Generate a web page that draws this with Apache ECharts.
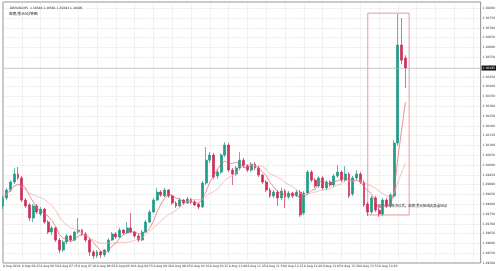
<!DOCTYPE html>
<html><head><meta charset="utf-8">
<script src="https://cdn.jsdelivr.net/npm/echarts@6/dist/echarts.min.js"></script>
<style>html,body{margin:0;padding:0;background:#fff}#c{width:498px;height:271px}</style>
</head><body><div id="c"></div>
<script>
const timeLabels = ['8 Aug 2019','8 Aug 06:25','8 Aug 06:50','8 Aug 07:15','8 Aug 07:40','8 Aug 08:05','8 Aug 08:30','8 Aug 08:55','8 Aug 09:20','8 Aug 09:45','8 Aug 10:10','8 Aug 10:35','8 Aug 11:00','8 Aug 11:25','8 Aug 11:50','8 Aug 12:15','8 Aug 12:40','8 Aug 13:05','8 Aug 13:30','8 Aug 13:55','8 Aug 14:20'];
const slotCount = 128;
const opens = [1.29791,1.29832,1.29872,1.29913,1.29954,1.29934,1.29821,1.29796,1.29730,1.29791,1.29750,1.29775,1.29709,1.29658,1.29679,1.29617,1.29566,1.29607,1.29638,1.29617,1.29658,1.29668,1.29648,1.29617,1.29556,1.29536,1.29556,1.29541,1.29561,1.29617,1.29648,1.29633,1.29668,1.29653,1.29679,1.29658,1.29638,1.29617,1.29658,1.29709,1.29760,1.29821,1.29862,1.29842,1.29872,1.29842,1.29806,1.29791,1.29821,1.29806,1.29826,1.29811,1.29801,1.29786,1.29908,1.30025,1.30051,1.29944,1.29964,1.30051,1.30102,1.29974,1.29954,1.29985,1.30025,1.29995,1.29974,1.30005,1.29985,1.29949,1.29913,1.29872,1.29842,1.29862,1.29832,1.29867,1.29837,1.29857,1.29842,1.29862,1.29755,1.29857,1.29964,1.29923,1.29893,1.29934,1.29883,1.29913,1.29898,1.29944,1.29964,1.29923,1.29954,1.29852,1.29934,1.29954,1.29913,1.29801,1.29760,1.29832,1.29770,1.29750,1.29821,1.29791,1.29842,1.30112,1.30612,1.30546];
const closes = [1.29832,1.29872,1.29913,1.29954,1.29934,1.29821,1.29791,1.29730,1.29791,1.29760,1.29775,1.29709,1.29658,1.29679,1.29617,1.29566,1.29607,1.29638,1.29617,1.29658,1.29668,1.29648,1.29617,1.29556,1.29536,1.29556,1.29541,1.29566,1.29617,1.29648,1.29633,1.29668,1.29653,1.29679,1.29658,1.29638,1.29617,1.29658,1.29709,1.29760,1.29821,1.29862,1.29847,1.29872,1.29842,1.29806,1.29791,1.29821,1.29806,1.29826,1.29811,1.29796,1.29786,1.29908,1.30025,1.30051,1.29939,1.29964,1.30051,1.30102,1.29974,1.29954,1.29985,1.30025,1.29995,1.29974,1.30005,1.29985,1.29949,1.29913,1.29872,1.29842,1.29862,1.29832,1.29867,1.29837,1.29857,1.29842,1.29862,1.29745,1.29857,1.29964,1.29923,1.29893,1.29934,1.29883,1.29913,1.29898,1.29944,1.29964,1.29923,1.29954,1.29842,1.29934,1.29954,1.29913,1.29796,1.29760,1.29832,1.29770,1.29750,1.29821,1.29791,1.29847,1.30112,1.30612,1.30535,1.30495];
const lows = [1.29775,1.29821,1.29862,1.29903,1.29923,1.29811,1.29781,1.29714,1.29709,1.29750,1.29740,1.29699,1.29648,1.29643,1.29607,1.29551,1.29556,1.29597,1.29607,1.29612,1.29648,1.29638,1.29607,1.29536,1.29520,1.29526,1.29526,1.29531,1.29551,1.29612,1.29622,1.29628,1.29643,1.29648,1.29653,1.29628,1.29607,1.29612,1.29653,1.29704,1.29755,1.29816,1.29837,1.29837,1.29832,1.29796,1.29781,1.29786,1.29796,1.29801,1.29801,1.29791,1.29775,1.29781,1.29898,1.30010,1.29928,1.29928,1.29954,1.30041,1.29964,1.29898,1.29944,1.29974,1.29985,1.29964,1.29964,1.29974,1.29939,1.29903,1.29862,1.29832,1.29832,1.29791,1.29821,1.29781,1.29826,1.29832,1.29837,1.29735,1.29745,1.29847,1.29913,1.29883,1.29883,1.29872,1.29872,1.29888,1.29888,1.29934,1.29913,1.29913,1.29832,1.29842,1.29923,1.29903,1.29786,1.29740,1.29750,1.29760,1.29735,1.29740,1.29781,1.29781,1.29832,1.30097,1.30515,1.30393];
const highs = [1.29842,1.29883,1.29923,1.29985,1.29990,1.29944,1.29832,1.29806,1.29801,1.29801,1.29786,1.29781,1.29719,1.29689,1.29684,1.29628,1.29617,1.29648,1.29643,1.29663,1.29730,1.29673,1.29658,1.29628,1.29566,1.29566,1.29561,1.29571,1.29628,1.29658,1.29658,1.29679,1.29673,1.29709,1.29755,1.29663,1.29648,1.29668,1.29719,1.29770,1.29832,1.29883,1.29872,1.29883,1.29877,1.29847,1.29816,1.29832,1.29826,1.29837,1.29832,1.29821,1.29806,1.29918,1.30092,1.30066,1.30061,1.29979,1.30061,1.30117,1.30112,1.29985,1.29995,1.30066,1.30036,1.30005,1.30015,1.30015,1.29995,1.29954,1.29923,1.29883,1.29872,1.29872,1.29883,1.29877,1.29867,1.29862,1.29872,1.29872,1.29867,1.29974,1.29974,1.29934,1.29944,1.29944,1.29923,1.29923,1.29954,1.30000,1.29974,1.29995,1.29964,1.29944,1.29974,1.29964,1.29923,1.29811,1.29842,1.29842,1.29781,1.29832,1.29832,1.29857,1.30127,1.30770,1.30750,1.30561];
const symbolTitle = 'GBPUSD,M5  1.30546 1.30561 1.30393 1.30495';
const chartNote = '英镑/美元5分钟图';
const annotation = '英国央行公布决议后，英镑/美元短线走高逾50点';
const boxRange = {x0: 97, x1: 108, yTop: 1.30775, yBottom: 1.29745};
const lastPrice = 1.30495;
const maPeriods = [5, 12];

const categories = Array.from({length: slotCount}, (_, i) => String(i));
const candleData = opens.map((o, i) => [o, closes[i], lows[i], highs[i]]);
function movingAvg(n) {
  return closes.map((_, i) => {
    const s = Math.max(0, i - n + 1);
    let sum = 0;
    for (let k = s; k <= i; k++) sum += closes[k];
    return +(sum / (i - s + 1)).toFixed(5);
  });
}
const up = '#1e9c87', down = '#cf2f5c';
const chart = echarts.init(document.getElementById('c'), null, {renderer: 'canvas'});
chart.setOption({
  animation: false,
  backgroundColor: '#fff',
  title: [
    {text: symbolTitle, left: 5, top: 1.5, textStyle: {fontSize: 3, fontWeight: 'normal', color: '#222', fontFamily: 'DejaVu Sans'}},
    {text: chartNote, left: 4, top: 6.5, textStyle: {fontSize: 3.6, fontWeight: 'normal', color: '#111', fontFamily: 'Noto Sans CJK SC'}}
  ],
  grid: {left: 3, right: 14, top: 2, bottom: 8, show: true, borderColor: '#777', borderWidth: 0.8, backgroundColor: '#fff'},
  xAxis: {
    type: 'category', data: categories, boundaryGap: false,
    axisLine: {show: false}, axisTick: {show: false},
    axisLabel: {interval: 4, fontSize: 3, color: '#333', margin: 2, align: 'left', fontFamily: 'DejaVu Sans',
      formatter: (v, idx) => (timeLabels[idx / 5] || '')},
    splitLine: {show: true, interval: 4, lineStyle: {color: '#d4d4d4', type: 'dotted', width: 0.6}}
  },
  yAxis: {
    type: 'value', position: 'right', min: 1.2950, max: 1.30832, interval: 0.0005,
    axisLine: {show: false}, axisTick: {show: false},
    axisLabel: {fontSize: 3, color: '#333', margin: 2, showMaxLabel: false, fontFamily: 'DejaVu Sans',
      formatter: v => v.toFixed(5)},
    splitLine: {show: true, lineStyle: {color: '#d4d4d4', type: 'dotted', width: 0.6}}
  },
  series: [
    {
      type: 'candlestick', data: candleData, barWidth: 2.4,
      itemStyle: {color: up, color0: down, borderColor: up, borderColor0: down, borderWidth: 0.7},
      markArea: {
        silent: true,
        itemStyle: {color: 'rgba(0,0,0,0)', borderColor: '#ec8f8f', borderWidth: 0.9},
        label: {show: true, position: 'insideBottomLeft', formatter: annotation, fontSize: 3.4, color: '#222',
          fontFamily: 'Noto Sans CJK SC', offset: [2, -3]},
        data: [[{xAxis: String(boxRange.x0), yAxis: boxRange.yTop}, {xAxis: String(boxRange.x1), yAxis: boxRange.yBottom}]]
      },
      markLine: {
        silent: true, symbol: 'none', precision: 5,
        lineStyle: {color: '#b8b8b8', type: 'solid', width: 0.6},
        label: {show: true, position: 'end', distance: 1, fontSize: 3, color: '#fff', backgroundColor: '#111',
          padding: [1, 1], formatter: p => Number(p.value).toFixed(5), fontFamily: 'DejaVu Sans'},
        data: [{yAxis: lastPrice}]
      },
      z: 3
    },
    {type: 'line', data: movingAvg(maPeriods[0]), showSymbol: false, symbol: 'none', lineStyle: {color: '#e0606a', width: 0.7}, z: 4},
    {type: 'line', data: movingAvg(maPeriods[1]), showSymbol: false, symbol: 'none', lineStyle: {color: '#f2a6a8', width: 0.7}, z: 4}
  ]
});
</script>
</body></html>
